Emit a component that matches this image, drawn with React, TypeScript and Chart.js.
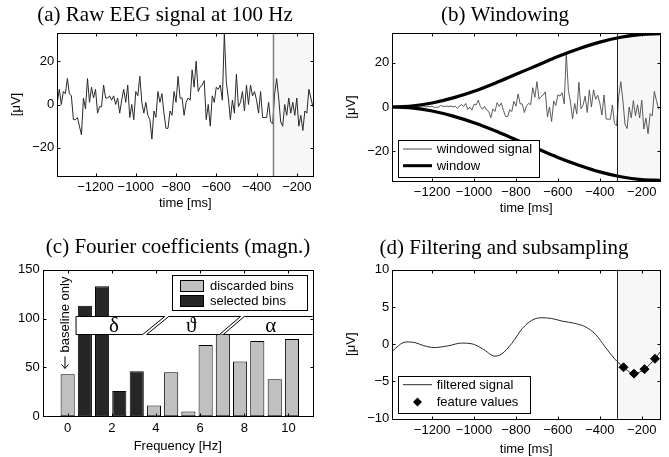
import React, { useEffect, useRef } from 'react';
import { Chart, registerables } from 'chart.js';

Chart.register(...registerables);

// ---------------- data ----------------
// raw EEG (µV), 128 samples at 100 Hz, from -1390 ms to -120 ms
const SAMPLE_START_MS = -1390;
const SAMPLE_STEP_MS = 10;
const rawSignal = [
  1, 7, 0, 6, 5, 12, 5, 4, -7, -7,
  -6, -10, -14, 3, -2, 12, 1, 8, 3, 7,
  -4, -1, -1, 9, 3, 3, 4, 2, 4, 0,
  3, -4, 2, 7, 1, 9, -6, 0, -7, 6,
  4, 13, 1, -4, 1, -5, -7, -16, -3, -6,
  6, 1, 5, -4, -11, -11, -3, -5, 6, 1,
  13, 3, 3, -5, 1, 3, 2, 16, 8, 20,
  6, 8, 9, 11, -7, 0, -10, 4, 1, 8,
  7, 9, 2, 33, 10, 3, -7, 2, -4, 14,
  -1, 1, 6, -3, 9, 0, 9, 4, 6, 2,
  -4, 6, -6, -6, -6, 1, -8, -9, 5, 12,
  3, -8, -10, 0, -5, 3, -4, 1, -5, 3,
  -10, -5, -12, -3, -4, 7, 3, -1,
];
const windowedSignal = [
  0, 0, 0, 0, 0, 0, 0, 0, -0.1, -0.1,
  -0.1, -0.2, -0.3, 0.1, -0.1, 0.4, 0, 0.3, 0.1, 0.4,
  -0.2, -0.1, -0.1, 0.7, 0.3, 0.3, 0.4, 0.2, 0.5, 0,
  0.4, -0.6, 0.3, 1.1, 0.2, 1.6, -1.1, 0, -1.4, 1.3,
  0.9, 3.1, 0.2, -1.0, 0.3, -1.4, -2.0, -4.8, -0.9, -2.0,
  2.0, 0.3, 1.8, -1.5, -4.2, -4.4, -1.2, -2.1, 2.6, 0.4,
  5.9, 1.4, 1.4, -2.5, 0.5, 1.6, 1.1, 8.7, 4.4, 11.4,
  3.5, 4.7, 5.4, 6.8, -4.4, 0, -6.5, 2.7, 0.7, 5.5,
  4.9, 6.4, 1.4, 24.1, 7.4, 2.3, -5.3, 1.6, -3.1, 11.1,
  -0.8, 0.8, 4.9, -2.5, 7.6, 0, 7.7, 3.5, 5.3, 1.8,
  -3.6, 5.4, -5.4, -5.5, -5.5, 0.9, -7.5, -8.5, 4.7, 11.4,
  2.9, -7.7, -9.7, 0, -4.9, 2.9, -3.9, 1.0, -4.9, 3.0,
  -9.9, -5.0, -12.0, -3.0, -4.0, 7.0, 3.0, -1.0,
];
const timeMs = rawSignal.map((_, i) => SAMPLE_START_MS + i * SAMPLE_STEP_MS);

const windowTimes = [-1390, -1300, -1200, -1100, -1000, -900, -800, -700, -600, -500, -400, -300, -200, -113];
const windowUpper = [0, 0.4, 1.8, 4.1, 7.1, 10.7, 14.7, 18.7, 22.7, 26.2, 29.2, 31.4, 32.7, 33.0];
const windowLower = [0, -0.4, -1.8, -4.1, -7.1, -10.7, -14.7, -18.7, -22.7, -26.2, -29.2, -31.4, -32.7, -33.0];

const filteredTimes = [-1390, -1360, -1340, -1315, -1280, -1240, -1190, -1120, -1060, -1010, -960, -900, -870, -820, -770, -725, -680, -630, -580, -520, -470, -420, -375, -330, -287, -237, -187, -137, -113];
const filteredSignal = [-0.95, -0.2, 0.2, 0.3, 0.2, -0.2, -0.45, -0.2, 0.15, 0.05, -0.6, -1.6, -1.35, 0.1, 2.1, 3.2, 3.55, 3.45, 3.1, 2.8, 2.35, 1.3, -0.35, -1.95, -3.1, -3.95, -3.35, -1.95, -1.05];
const featureTimes = [-287, -237, -187, -137];
const featureValues = [-3.1, -3.95, -3.35, -1.95];

const binFrequencies = [0, 0.78, 1.56, 2.34, 3.13, 3.91, 4.69, 5.47, 6.25, 7.03, 7.81, 8.59, 9.38, 10.16];
const binMagnitudes = [43, 113, 133, 26, 46, 11, 45, 5, 73, 84, 56, 77, 38, 79];
const selectedBins = [1, 2, 3, 4];

const FEATURE_START_MS = -320;

const timeTicks = [-1200, -1000, -800, -600, -400, -200];
const eegTicks = [-20, 0, 20];
const filteredTicks = [-10, -5, 0, 5, 10];
const freqTicks = [0, 2, 4, 6, 8, 10];
const magTicks = [0, 50, 100, 150];
const bandLabels = ['\u03B4', '\u03D1', '\u03B1'];

// ---------------- styling helpers ----------------
const SANS = "'Liberation Sans', Arial, Helvetica, sans-serif";
const SERIF = "'Liberation Serif', 'Times New Roman', Times, serif";
const FONT_PX = 13;
const TITLE_PX = 21;

const fmt = (v: number) => (v < 0 ? '\u2212' + Math.abs(v) : String(v));

type Geo = { W: number; H: number; L: number; R: number; T: number; B: number };

function scalesFor(
  geo: Geo,
  xr: [number, number], xTicks: number[],
  yr: [number, number], yTicks: number[],
  xTitle: string, xTitlePad: number, yTitle: string | null,
) {
  const font = { family: SANS, size: FONT_PX };
  return {
    x: {
      type: 'linear', min: xr[0], max: xr[1], bounds: 'data', offset: false,
      afterBuildTicks: (s: any) => { s.ticks = xTicks.map((v) => ({ value: v })); },
      afterFit: (s: any) => { s.height = geo.H - geo.B; },
      grid: { display: false, drawTicks: false },
      border: { display: false },
      ticks: { font, color: '#000', padding: 4, maxRotation: 0, minRotation: 0, autoSkip: false, callback: (v: any) => fmt(Number(v)) },
      title: { display: true, text: xTitle, font, color: '#000', padding: { top: 0, bottom: xTitlePad } },
    },
    y: {
      type: 'linear', min: yr[0], max: yr[1], bounds: 'data',
      afterBuildTicks: (s: any) => { s.ticks = yTicks.map((v) => ({ value: v })); },
      afterFit: (s: any) => { s.width = geo.L; },
      grid: { display: false, drawTicks: false },
      border: { display: false },
      ticks: { font, color: '#000', padding: 3, autoSkip: false, callback: (v: any) => fmt(Number(v)) },
      title: { display: !!yTitle, text: yTitle || '', font, color: '#000', padding: { top: 9, bottom: 0 } },
    },
  };
}

function baseOptions(geo: Geo, scales: any) {
  return {
    animation: false,
    responsive: true,
    maintainAspectRatio: false,
    events: [],
    layout: { padding: { left: 0, right: geo.W - geo.R, top: geo.T, bottom: 0 } },
    plugins: { legend: { display: false }, tooltip: { enabled: false }, title: { display: false } },
    scales,
  };
}

type LegendEntry = { kind: 'line' | 'patch' | 'diamond'; color: string; width?: number; text: string; y: number };
type LegendCfg = { box: [number, number, number, number]; symbolX: [number, number]; textX: number; entries: LegendEntry[] };
type FrameCfg = {
  title: string; titleX: number; titleY: number;
  xTicks: number[]; yTicks: number[];
  shadeFrom?: number;
  vline?: { color: string; width: number };
  legend?: LegendCfg;
  overlay?: (chart: any) => void;
};

const crisp = (v: number) => Math.round(v) + 0.5;

function drawDiamond(ctx: CanvasRenderingContext2D, cx: number, cy: number, r: number) {
  ctx.beginPath();
  ctx.moveTo(cx, cy - r);
  ctx.lineTo(cx + r, cy);
  ctx.lineTo(cx, cy + r);
  ctx.lineTo(cx - r, cy);
  ctx.closePath();
  ctx.fill();
}

function drawLegend(ctx: CanvasRenderingContext2D, lg: LegendCfg) {
  const [x0, y0, x1, y1] = lg.box;
  ctx.save();
  ctx.fillStyle = '#fff';
  ctx.fillRect(x0, y0, x1 - x0, y1 - y0);
  ctx.strokeStyle = '#000';
  ctx.lineWidth = 1;
  ctx.strokeRect(crisp(x0), crisp(y0), Math.round(x1 - x0), Math.round(y1 - y0));
  ctx.font = `${FONT_PX}px ${SANS}`;
  ctx.textBaseline = 'middle';
  ctx.textAlign = 'left';
  const [sx0, sx1] = lg.symbolX;
  for (const e of lg.entries) {
    if (e.kind === 'line') {
      ctx.strokeStyle = e.color;
      ctx.lineWidth = e.width || 1;
      ctx.beginPath();
      ctx.moveTo(sx0, e.y);
      ctx.lineTo(sx1, e.y);
      ctx.stroke();
    } else if (e.kind === 'patch') {
      ctx.fillStyle = e.color;
      ctx.fillRect(sx0, e.y - 5.5, sx1 - sx0, 11);
      ctx.strokeStyle = '#000';
      ctx.lineWidth = 1;
      ctx.strokeRect(crisp(sx0), crisp(e.y - 5.5), Math.round(sx1 - sx0), 11);
    } else {
      ctx.fillStyle = e.color;
      drawDiamond(ctx, (sx0 + sx1) / 2, e.y, 4.5);
    }
    ctx.fillStyle = '#000';
    ctx.fillText(e.text, lg.textX, e.y + 0.5);
  }
  ctx.restore();
}

function framePlugin(cfg: FrameCfg) {
  return {
    id: 'matlabFrame',
    beforeDatasetsDraw(chart: any) {
      const { ctx, chartArea: a, scales } = chart;
      if (cfg.shadeFrom !== undefined) {
        const x0 = scales.x.getPixelForValue(cfg.shadeFrom);
        ctx.save();
        ctx.fillStyle = '#f7f7f7';
        ctx.fillRect(x0, a.top, a.right - x0, a.bottom - a.top);
        ctx.restore();
      }
    },
    afterDatasetsDraw(chart: any) {
      const { ctx, chartArea: a, scales } = chart;
      if (cfg.overlay) cfg.overlay(chart);
      ctx.save();
      if (cfg.shadeFrom !== undefined && cfg.vline) {
        const xv = crisp(scales.x.getPixelForValue(cfg.shadeFrom));
        ctx.strokeStyle = cfg.vline.color;
        ctx.lineWidth = cfg.vline.width;
        ctx.beginPath();
        ctx.moveTo(xv, a.top);
        ctx.lineTo(xv, a.bottom);
        ctx.stroke();
      }
      const l = crisp(a.left), r = crisp(a.right), t = crisp(a.top), b = crisp(a.bottom);
      ctx.strokeStyle = '#000';
      ctx.lineWidth = 1;
      ctx.strokeRect(l, t, r - l, b - t);
      const TL = 3;
      ctx.beginPath();
      for (const v of cfg.xTicks) {
        const p = crisp(scales.x.getPixelForValue(v));
        ctx.moveTo(p, b); ctx.lineTo(p, b - TL);
        ctx.moveTo(p, t); ctx.lineTo(p, t + TL);
      }
      for (const v of cfg.yTicks) {
        const p = crisp(scales.y.getPixelForValue(v));
        ctx.moveTo(l, p); ctx.lineTo(l + TL, p);
        ctx.moveTo(r, p); ctx.lineTo(r - TL, p);
      }
      ctx.stroke();
      ctx.restore();
      if (cfg.legend) drawLegend(ctx, cfg.legend);
    },
    afterDraw(chart: any) {
      const { ctx } = chart;
      ctx.save();
      ctx.font = `${TITLE_PX}px ${SERIF}`;
      ctx.fillStyle = '#000';
      ctx.textAlign = 'center';
      ctx.textBaseline = 'alphabetic';
      ctx.fillText(cfg.title, cfg.titleX, cfg.titleY);
      ctx.restore();
    },
  };
}

// ---------------- panels ----------------
const geoA: Geo = { W: 335, H: 228, L: 57.3, R: 313.3, T: 33, B: 176 };
const geoB: Geo = { W: 334, H: 228, L: 57.3, R: 325, T: 33, B: 181 };
const geoC: Geo = { W: 335, H: 229, L: 42.7, R: 312.7, T: 41.7, B: 188.3 };
const geoD: Geo = { W: 334, H: 229, L: 57.3, R: 325, T: 41.7, B: 190.7 };

function makeRaw() {
  return {
    type: 'line',
    data: {
      datasets: [{
        label: 'raw EEG',
        data: timeMs.map((t, i) => ({ x: t, y: rawSignal[i] })),
        borderColor: '#2a2a2a', borderWidth: 1, pointRadius: 0, tension: 0,
      }],
    },
    options: baseOptions(geoA, scalesFor(geoA, [-1390, -118], timeTicks, [-33, 33], eegTicks, 'time [ms]', 16.5, '[\u03BCV]')),
    plugins: [framePlugin({
      title: '(a) Raw EEG signal at 100 Hz', titleX: 165, titleY: 20.5,
      xTicks: timeTicks, yTicks: eegTicks,
      shadeFrom: FEATURE_START_MS, vline: { color: '#808080', width: 1.5 },
    })],
  };
}

function makeWindow() {
  return {
    type: 'line',
    data: {
      datasets: [
        {
          label: 'window',
          data: windowTimes.map((t, i) => ({ x: t, y: windowUpper[i] })),
          borderColor: '#000', borderWidth: 3.2, pointRadius: 0, cubicInterpolationMode: 'monotone',
        },
        {
          label: 'window (lower)',
          data: windowTimes.map((t, i) => ({ x: t, y: windowLower[i] })),
          borderColor: '#000', borderWidth: 3.2, pointRadius: 0, cubicInterpolationMode: 'monotone',
        },
        {
          label: 'windowed signal',
          data: timeMs.map((t, i) => ({ x: t, y: windowedSignal[i] })),
          borderColor: '#4a4a4a', borderWidth: 0.9, pointRadius: 0, tension: 0,
        },
      ],
    },
    options: baseOptions(geoB, scalesFor(geoB, [-1390, -113], timeTicks, [-33.3, 33.3], eegTicks, 'time [ms]', 12, '[\u03BCV]')),
    plugins: [framePlugin({
      title: '(b) Windowing', titleX: 170, titleY: 20.5,
      xTicks: timeTicks, yTicks: eegTicks,
      shadeFrom: FEATURE_START_MS, vline: { color: '#222', width: 1 },
      legend: {
        box: [63.3, 140, 204, 176.7], symbolX: [68, 97], textX: 101.7,
        entries: [
          { kind: 'line', color: '#4a4a4a', width: 1, text: 'windowed signal', y: 149 },
          { kind: 'line', color: '#000', width: 3, text: 'window', y: 165.7 },
        ],
      },
    })],
  };
}

// frequency band annotation in data coordinates
const BAND_TOP = 102.3;
const BAND_BOTTOM = 84.2;
const bandShapes = [
  { topL: 0.38, topR: 4.4, botR: 3.4, botL: 0.38, labelX: 2.1 },
  { topL: 4.58, topR: 7.83, botR: 6.88, botL: 3.58, labelX: 5.6 },
  { topL: 8.0, topR: 12.5, botR: 12.5, botL: 7.05, labelX: 9.2 },
];

function drawBand(chart: any) {
  const { ctx, chartArea: a, scales: { x, y } } = chart;
  ctx.save();
  ctx.beginPath();
  ctx.rect(a.left, a.top, a.right - a.left, a.bottom - a.top);
  ctx.clip();
  const yt = crisp(y.getPixelForValue(BAND_TOP));
  const yb = crisp(y.getPixelForValue(BAND_BOTTOM));
  bandShapes.forEach((s, i) => {
    ctx.beginPath();
    ctx.moveTo(x.getPixelForValue(s.topL), yt);
    ctx.lineTo(x.getPixelForValue(s.topR), yt);
    ctx.lineTo(x.getPixelForValue(s.botR), yb);
    ctx.lineTo(x.getPixelForValue(s.botL), yb);
    ctx.closePath();
    ctx.fillStyle = '#fff';
    ctx.fill();
    ctx.strokeStyle = '#000';
    ctx.lineWidth = 1;
    ctx.stroke();
    ctx.fillStyle = '#000';
    ctx.font = `21px ${SERIF}`;
    ctx.textAlign = 'center';
    ctx.textBaseline = 'middle';
    ctx.fillText(bandLabels[i], x.getPixelForValue(s.labelX), (yt + yb) / 2 + 1);
  });
  ctx.restore();
  // "← baseline only" note, rotated (reads bottom to top, arrow points down at bin 0)
  ctx.save();
  ctx.translate(x.getPixelForValue(-0.12), y.getPixelForValue(96));
  ctx.rotate(-Math.PI / 2);
  ctx.font = `${FONT_PX}px ${SANS}`;
  const label = 'baseline only';
  const tw = ctx.measureText(label).width;
  const arrowLen = 12;
  const gap = 4;
  const total = arrowLen + gap + tw;
  const x0 = -total / 2;
  ctx.strokeStyle = '#000';
  ctx.fillStyle = '#000';
  ctx.lineWidth = 1;
  ctx.beginPath();
  ctx.moveTo(x0, 0);
  ctx.lineTo(x0 + arrowLen, 0);
  ctx.moveTo(x0 + 4, -3.5);
  ctx.lineTo(x0, 0);
  ctx.lineTo(x0 + 4, 3.5);
  ctx.stroke();
  ctx.textAlign = 'left';
  ctx.textBaseline = 'middle';
  ctx.fillText(label, x0 + arrowLen + gap, 0.5);
  ctx.restore();
}

function makeFourier() {
  const discarded = binFrequencies
    .map((f, i) => ({ x: f, y: binMagnitudes[i], i }))
    .filter((p) => !selectedBins.includes(p.i))
    .map(({ x, y }) => ({ x, y }));
  const selected = binFrequencies
    .map((f, i) => ({ x: f, y: binMagnitudes[i], i }))
    .filter((p) => selectedBins.includes(p.i))
    .map(({ x, y }) => ({ x, y }));
  const scales = scalesFor(geoC, [-1.13, 11.1], freqTicks, [0, 150], magTicks, 'Frequency [Hz]', 2.5, null);
  return {
    type: 'bar',
    data: {
      datasets: [
        {
          label: 'discarded bins', data: discarded, grouped: false,
          backgroundColor: '#c0c0c0', borderColor: '#000', borderWidth: 1, borderSkipped: false,
          barPercentage: 0.82, categoryPercentage: 1,
        },
        {
          label: 'selected bins', data: selected, grouped: false,
          backgroundColor: '#262626', borderColor: '#000', borderWidth: 1, borderSkipped: false,
          barPercentage: 0.82, categoryPercentage: 1,
        },
      ],
    },
    options: baseOptions(geoC, scales),
    plugins: [framePlugin({
      title: '(c) Fourier coefficients (magn.)', titleX: 178, titleY: 25,
      xTicks: freqTicks, yTicks: magTicks,
      overlay: drawBand,
      legend: {
        box: [171.7, 46.7, 307, 81.3], symbolX: [180, 203], textX: 210,
        entries: [
          { kind: 'patch', color: '#c0c0c0', text: 'discarded bins', y: 57.5 },
          { kind: 'patch', color: '#262626', text: 'selected bins', y: 72.5 },
        ],
      },
    })],
  };
}

function makeFiltered() {
  return {
    type: 'line',
    data: {
      datasets: [
        {
          label: 'feature values',
          data: featureTimes.map((t, i) => ({ x: t, y: featureValues[i] })),
          showLine: false, pointStyle: 'rectRot', pointRadius: 4.5,
          backgroundColor: '#000', borderColor: '#000', borderWidth: 1,
        },
        {
          label: 'filtered signal',
          data: filteredTimes.map((t, i) => ({ x: t, y: filteredSignal[i] })),
          borderColor: '#2a2a2a', borderWidth: 1, pointRadius: 0, cubicInterpolationMode: 'monotone',
        },
      ],
    },
    options: baseOptions(geoD, scalesFor(geoD, [-1390, -113], timeTicks, [-10, 10], filteredTicks, 'time [ms]', 0, '[\u03BCV]')),
    plugins: [framePlugin({
      title: '(d) Filtering and subsampling', titleX: 169, titleY: 25.5,
      xTicks: timeTicks, yTicks: filteredTicks,
      shadeFrom: FEATURE_START_MS, vline: { color: '#222', width: 1 },
      legend: {
        box: [63.3, 148.3, 195, 185], symbolX: [68, 97], textX: 101.7,
        entries: [
          { kind: 'line', color: '#2a2a2a', width: 1, text: 'filtered signal', y: 156.7 },
          { kind: 'diamond', color: '#000', text: 'feature values', y: 174 },
        ],
      },
    })],
  };
}

function Panel(props: { left: number; top: number; width: number; height: number; make: () => any }) {
  const ref = useRef<HTMLCanvasElement | null>(null);
  const { left, top, width, height, make } = props;
  useEffect(() => {
    if (!ref.current) return;
    const chart = new Chart(ref.current, make() as any);
    return () => chart.destroy();
  }, [make]);
  return (
    <div style={{ position: 'absolute', left, top, width, height }}>
      <canvas ref={ref} />
    </div>
  );
}

export default function App() {
  return (
    <div style={{ position: 'absolute', left: 0, top: 0, width: 669, height: 457, background: '#fff', overflow: 'hidden' }}>
      <Panel left={0} top={0} width={335} height={228} make={makeRaw} />
      <Panel left={335} top={0} width={334} height={228} make={makeWindow} />
      <Panel left={0} top={228} width={335} height={229} make={makeFourier} />
      <Panel left={335} top={228} width={334} height={229} make={makeFiltered} />
    </div>
  );
}
